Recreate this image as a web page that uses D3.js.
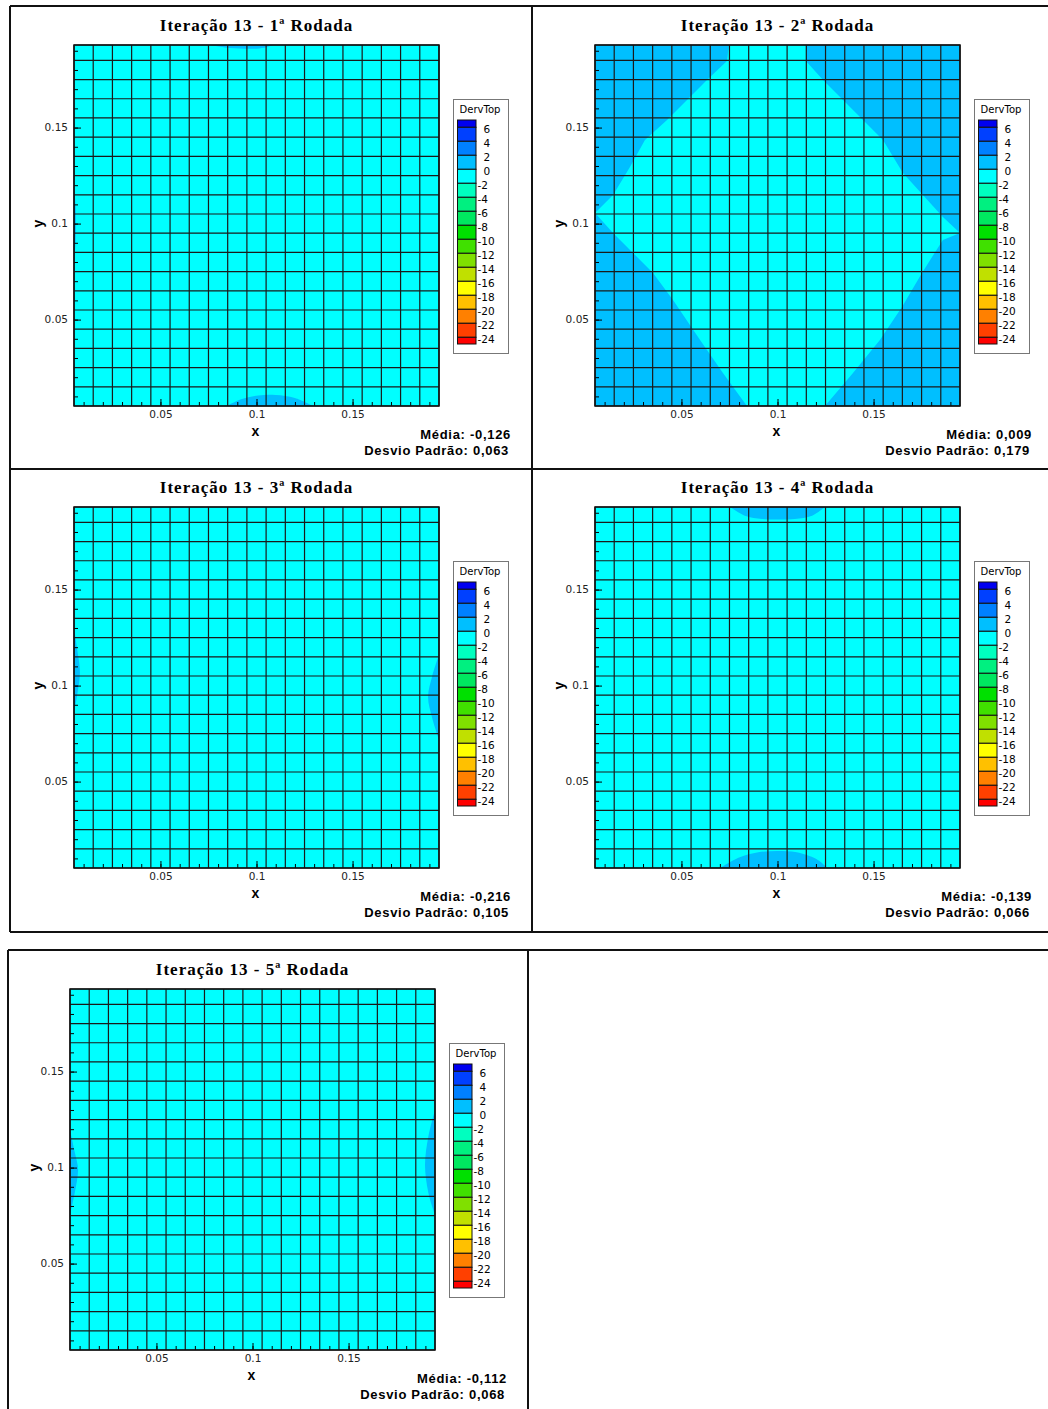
<!DOCTYPE html>
<html>
<head>
<meta charset="utf-8">
<script src="https://cdn.jsdelivr.net/npm/d3@7"></script>
<style>
  body { margin: 0; background: #fff; }
</style>
</head>
<body>
<svg id="chart" width="1048" height="1409"></svg>
<script>
// ---- data ----
const titles = [
  "Iteração 13 - 1ª Rodada",
  "Iteração 13 - 2ª Rodada",
  "Iteração 13 - 3ª Rodada",
  "Iteração 13 - 4ª Rodada",
  "Iteração 13 - 5ª Rodada"
];
const medias = ["-0,126", "0,009", "-0,216", "-0,139", "-0,112"];
const desvios = ["0,063", "0,179", "0,105", "0,066", "0,068"];

const legendLabels = [6, 4, 2, 0, -2, -4, -6, -8, -10, -12, -14, -16, -18, -20, -22, -24];
const legendColors = [
  "#0000f0", "#0040ff", "#0080ff", "#00bfff", "#00ffff", "#00ffbf",
  "#00f080", "#00e860", "#00e000", "#40e000", "#80e000", "#c0e000",
  "#ffff00", "#ffc000", "#ff8000", "#ff4000", "#ff0000"
];

const axisTicks = [0.01, 0.02, 0.03, 0.04, 0.05, 0.06, 0.07, 0.08, 0.09, 0.1,
  0.11, 0.12, 0.13, 0.14, 0.15, 0.16, 0.17, 0.18, 0.19];
const labelTicks = [0.05, 0.1, 0.15];
const cellEdgesX = [0.005, 0.015, 0.025, 0.035, 0.045, 0.055, 0.065, 0.075, 0.085, 0.095,
  0.105, 0.115, 0.125, 0.135, 0.145, 0.155, 0.165, 0.175, 0.185, 0.195];
const cellEdgesY = [0.005, 0.015, 0.025, 0.035, 0.045, 0.055, 0.065, 0.075, 0.085, 0.095,
  0.105, 0.115, 0.125, 0.135, 0.145, 0.155, 0.165, 0.175, 0.185, 0.193];

// regions where DervTop is in 0..2 (rest of each field is 0..-2)
const rodada1 = [
  [[0.0758, 0.193], [0.086, 0.1914], [0.097, 0.1910], [0.104, 0.1916], [0.1086, 0.193]],
  [[0.0846, 0.005], [0.092, 0.0085], [0.101, 0.0105], [0.110, 0.0107], [0.120, 0.0092], [0.1294, 0.005]],
  [[0.005, 0.121], [0.0058, 0.11], [0.006, 0.1], [0.0058, 0.09], [0.005, 0.080]]
];
const rodada2 = [
  [[0.005, 0.193], [0.0747, 0.193], [0.0737, 0.1847], [0.0633, 0.1748], [0.0529, 0.1644], [0.0425, 0.1539],
   [0.0310, 0.1435], [0.0232, 0.1295], [0.0144, 0.1149], [0.005, 0.1055]],
  [[0.195, 0.193], [0.1148, 0.193], [0.1148, 0.1847], [0.1237, 0.1748], [0.1341, 0.1644], [0.1445, 0.1539],
   [0.1549, 0.1435], [0.1653, 0.1263], [0.1757, 0.1149], [0.1861, 0.1034], [0.195, 0.0951]],
  [[0.195, 0.0951], [0.1861, 0.0915], [0.1752, 0.0743], [0.1648, 0.0566], [0.1533, 0.0394],
   [0.1393, 0.0222], [0.1247, 0.005], [0.195, 0.005]],
  [[0.005, 0.1055], [0.0144, 0.0951], [0.0248, 0.0847], [0.0352, 0.0743], [0.0456, 0.0602],
   [0.0597, 0.0394], [0.0716, 0.0222], [0.0841, 0.005], [0.005, 0.005]]
];
const rodada3 = [
  [[0.005, 0.130], [0.0068, 0.118], [0.0081, 0.107], [0.0068, 0.096], [0.005, 0.0862]],
  [[0.195, 0.1159], [0.1915, 0.105], [0.1893, 0.094], [0.1915, 0.083], [0.195, 0.0717]]
];
const rodada4 = [
  [[0.0753, 0.193], [0.083, 0.1885], [0.092, 0.1868], [0.1003, 0.1865], [0.109, 0.1868], [0.118, 0.1885], [0.1247, 0.193]],
  [[0.0701, 0.005], [0.080, 0.0105], [0.09, 0.0132], [0.1, 0.0139], [0.11, 0.0132], [0.12, 0.0098], [0.1258, 0.005]]
];
const rodada5 = [
  [[0.005, 0.1196], [0.0075, 0.108], [0.0092, 0.0987], [0.0075, 0.087], [0.005, 0.0753]],
  [[0.195, 0.130], [0.1915, 0.116], [0.1898, 0.1013], [0.1915, 0.087], [0.195, 0.0753]]
];

// ---- layout ----
const panels = [
  { ox: 10, oy: 6, regions: rodada1, curve: d3.curveCardinal },
  { ox: 531, oy: 6, regions: rodada2, curve: d3.curveLinear },
  { ox: 10, oy: 468, regions: rodada3, curve: d3.curveCardinal },
  { ox: 531, oy: 468, regions: rodada4, curve: d3.curveCardinal },
  { ox: 6, oy: 950, regions: rodada5, curve: d3.curveCardinal }
];
const plot = { left: 64, top: 39, width: 365, height: 361 };

const svg = d3.select("#chart");
svg.append("rect").attr("width", 1048).attr("height", 1409).attr("fill", "#fff");

// table frames
const frame = svg.append("g").attr("stroke", "#111").attr("stroke-width", 2).attr("fill", "none");
[[10, 6, 1048, 6], [10, 469, 1048, 469], [10, 932, 1048, 932], [10, 6, 10, 932], [532, 6, 532, 932],
 [8, 950, 1048, 950], [8, 950, 8, 1409], [528, 950, 528, 1409]].forEach(l => {
  frame.append("line").attr("x1", l[0]).attr("y1", l[1]).attr("x2", l[2]).attr("y2", l[3]);
});

const x = d3.scaleLinear().domain([0.005, 0.195]).range([plot.left, plot.left + plot.width]);
const y = d3.scaleLinear().domain([0.005, 0.193]).range([plot.top + plot.height, plot.top]);
const legendY = d3.scaleLinear().domain([6, -24]).range([121.3, 331.3]);

panels.forEach((p, i) => {
  const g = svg.append("g").attr("transform", `translate(${p.ox},${p.oy})`);
  const clipId = "clip" + i;
  g.append("clipPath").attr("id", clipId)
    .append("rect").attr("x", plot.left).attr("y", plot.top)
    .attr("width", plot.width).attr("height", plot.height);

  // title
  g.append("text")
    .attr("x", x(0.1)).attr("y", 25)
    .attr("text-anchor", "middle")
    .style("font-family", "'Liberation Serif', serif")
    .style("font-weight", "bold")
    .style("font-size", "17px")
    .style("letter-spacing", "1px")
    .text(titles[i]);

  // field: base band 0..-2 and regions in band 0..2
  const field = g.append("g").attr("clip-path", `url(#${clipId})`);
  field.append("rect")
    .attr("x", plot.left).attr("y", plot.top)
    .attr("width", plot.width).attr("height", plot.height)
    .attr("fill", legendColors[4]);
  const line = d3.line().x(d => x(d[0])).y(d => y(d[1])).curve(p.curve);
  field.selectAll("path.band")
    .data(p.regions)
    .join("path")
    .attr("class", "band")
    .attr("d", d => line(d) + "Z")
    .attr("fill", legendColors[3]);

  // mesh
  const mesh = g.append("g").attr("stroke", "#1a1a1a").attr("stroke-width", 1.2);
  mesh.selectAll("line.v").data(cellEdgesX).join("line").attr("class", "v")
    .attr("x1", d => x(d)).attr("x2", d => x(d)).attr("y1", plot.top).attr("y2", plot.top + plot.height);
  mesh.selectAll("line.h").data(cellEdgesY).join("line").attr("class", "h")
    .attr("y1", d => y(d)).attr("y2", d => y(d)).attr("x1", plot.left).attr("x2", plot.left + plot.width);

  // axes (ticks point inward)
  const bottom = plot.top + plot.height;
  g.append("g").attr("transform", `translate(0,${bottom})`)
    .call(d3.axisBottom(x).tickValues(axisTicks).tickSize(-4).tickFormat(""))
    .call(a => a.select(".domain").remove());
  g.append("g").attr("transform", `translate(0,${bottom})`)
    .call(d3.axisBottom(x).tickValues(labelTicks).tickSize(-7).tickPadding(5).tickFormat(d => String(d)))
    .call(a => a.select(".domain").remove())
    .call(a => a.selectAll("text").style("font-family", "'DejaVu Sans', sans-serif").style("font-size", "10.5px").attr("fill", "#222"));
  g.append("g").attr("transform", `translate(${plot.left},0)`)
    .call(d3.axisLeft(y).tickValues(axisTicks).tickSize(-4).tickFormat(""))
    .call(a => a.select(".domain").remove());
  g.append("g").attr("transform", `translate(${plot.left},0)`)
    .call(d3.axisLeft(y).tickValues(labelTicks).tickSize(-7).tickPadding(6).tickFormat(d => String(d)))
    .call(a => a.select(".domain").remove())
    .call(a => a.selectAll("text").style("font-family", "'DejaVu Sans', sans-serif").style("font-size", "10.5px").attr("fill", "#222"));

  // plot border
  g.append("rect")
    .attr("x", plot.left).attr("y", plot.top)
    .attr("width", plot.width).attr("height", plot.height)
    .attr("fill", "none").attr("stroke", "#111").attr("stroke-width", 1.5);

  // axis titles
  g.append("text")
    .attr("x", x(0.1) - 1).attr("y", 430)
    .attr("text-anchor", "middle")
    .style("font-family", "'Liberation Sans', sans-serif")
    .style("font-weight", "bold").style("font-size", "14px")
    .text("x");
  g.append("text")
    .attr("transform", `translate(33,${y(0.1)}) rotate(-90)`)
    .attr("text-anchor", "middle")
    .style("font-family", "'Liberation Sans', sans-serif")
    .style("font-weight", "bold").style("font-size", "14px")
    .text("y");

  // legend
  const lg = g.append("g");
  lg.append("rect")
    .attr("x", 443.5).attr("y", 93.5).attr("width", 55).attr("height", 254)
    .attr("fill", "#fff").attr("stroke", "#777").attr("stroke-width", 1);
  lg.append("text")
    .attr("x", 470).attr("y", 107)
    .attr("text-anchor", "middle")
    .style("font-family", "'DejaVu Sans', sans-serif").style("font-size", "10px")
    .text("DervTop");
  const swatchY0 = [114].concat(legendLabels.map(v => legendY(v)));
  const swatchY1 = legendLabels.map(v => legendY(v)).concat([338]);
  lg.selectAll("rect.sw")
    .data(legendColors)
    .join("rect")
    .attr("class", "sw")
    .attr("x", 447.5).attr("width", 18.5)
    .attr("y", (d, k) => swatchY0[k])
    .attr("height", (d, k) => swatchY1[k] - swatchY0[k])
    .attr("fill", d => d)
    .attr("stroke", "#111").attr("stroke-width", 1);
  lg.selectAll("text.lab")
    .data(legendLabels)
    .join("text")
    .attr("class", "lab")
    .attr("x", d => d < 0 ? 467.5 : 473.5)
    .attr("y", d => legendY(d) + 2.5)
    .attr("dy", "0.35em")
    .style("font-family", "'DejaVu Sans', sans-serif").style("font-size", "10.5px")
    .text(d => d < 0 ? "-" + Math.abs(d) : d);

  // statistics
  const stat = g.append("g")
    .attr("text-anchor", "end")
    .style("font-family", "'Liberation Sans', sans-serif")
    .style("font-weight", "bold").style("font-size", "13px")
    .style("letter-spacing", "0.7px");
  stat.append("text").attr("x", 501).attr("y", 433).text("Média: " + medias[i]);
  stat.append("text").attr("x", 499).attr("y", 449).text("Desvio Padrão: " + desvios[i]);
});
</script>
</body>
</html>
